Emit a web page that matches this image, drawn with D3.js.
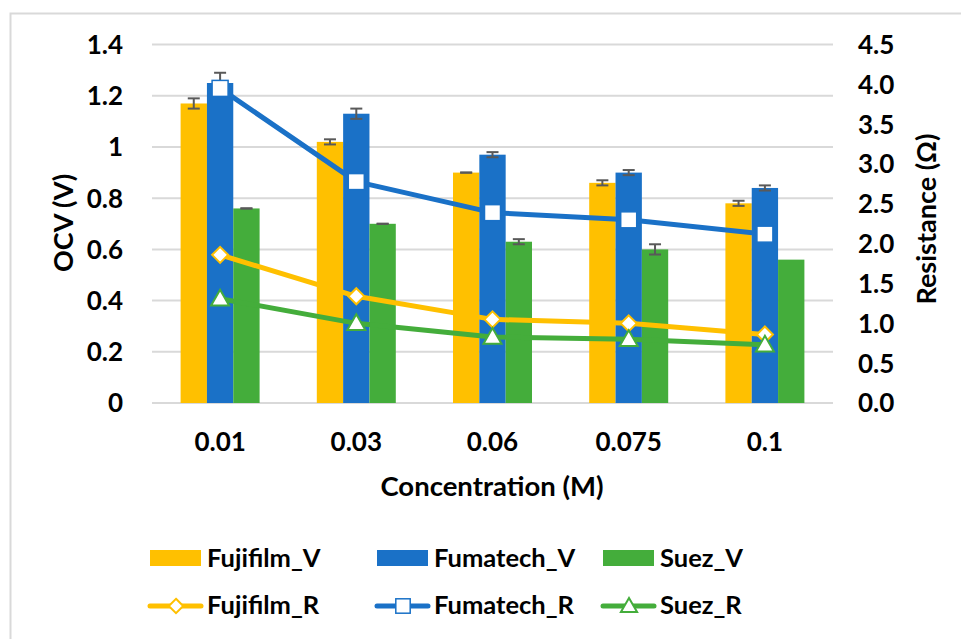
<!DOCTYPE html>
<html><head><meta charset="utf-8">
<script src="https://cdn.jsdelivr.net/npm/d3@7"></script>
<style>
html,body{margin:0;padding:0;background:#fff;}
text{font-family:Lato,"Open Sans",sans-serif;font-weight:bold;fill:#000;}
</style></head>
<body><svg id="chart" width="961" height="639"></svg>
<script>
const categories = ["0.01","0.03","0.06","0.075","0.1"];
const barSeries = ["Fujifilm_V","Fumatech_V","Suez_V"];
const lineSeries = ["Fujifilm_R","Fumatech_R","Suez_R"];
const fujifilmV = [1.17,1.02,0.90,0.86,0.78];
const fumatechV = [1.25,1.13,0.97,0.90,0.84];
const suezV = [0.76,0.70,0.63,0.60,0.56];
const fujifilmVErr = [0.02,0.01,0.0,0.01,0.01];
const fumatechVErr = [0.04,0.02,0.01,0.01,0.01];
const suezVErr = [0.0,0.0,0.01,0.02,null];
const fujifilmR = [1.86,1.34,1.05,1.00,0.86];
const fumatechR = [3.95,2.78,2.39,2.30,2.12];
const suezR = [1.31,1.00,0.83,0.80,0.73];
const leftTicks = [0,0.2,0.4,0.6,0.8,1,1.2,1.4];
const rightTicks = [0,0.5,1.0,1.5,2.0,2.5,3.0,3.5,4.0,4.5];

const colors = ["#FFC000","#1A71C7","#44AD3B"];
const barVals = [fujifilmV,fumatechV,suezV];
const barErrs = [fujifilmVErr,fumatechVErr,suezVErr];
const lineVals = [fujifilmR,fumatechR,suezR];
const markers = ["diamond","square","triangle"];

const svg = d3.select("#chart");
// frame
svg.append("path").attr("d","M10.5,700 L10.5,13.5 L970,13.5").attr("fill","none").attr("stroke","#d9d9d9").attr("stroke-width",2);

const L=152, R=833, T=44.6, B=403;
const x = d3.scaleBand().domain(categories).range([L,R]).paddingInner(0.42).paddingOuter(0.21);
const xs = d3.scaleBand().domain(barSeries).range([0,x.bandwidth()]);
const yL = d3.scaleLinear().domain([0,1.4]).range([B,T]);
const yR = d3.scaleLinear().domain([0,4.5]).range([B,T]);
const cx = c => x(c)+x.bandwidth()/2;

// gridlines
svg.append("g").selectAll("line").data(leftTicks).join("line")
  .attr("x1",L).attr("x2",R).attr("y1",d=>yL(d)).attr("y2",d=>yL(d))
  .attr("stroke","#d9d9d9").attr("stroke-width",2);

// axis tick labels
svg.append("g").selectAll("text").data(leftTicks).join("text")
  .attr("x",123).attr("y",d=>yL(d)).attr("dy","0.36em").attr("text-anchor","end")
  .style("font-size","26px").text(d=>d3.format("")(d));
svg.append("g").selectAll("text").data(rightTicks).join("text")
  .attr("x",858).attr("y",d=>yR(d)).attr("dy","0.36em").attr("text-anchor","start")
  .style("font-size","26px").text(d=>d.toFixed(1));

// category labels
svg.append("g").selectAll("text").data(categories).join("text")
  .attr("x",d=>cx(d)).attr("y",451).attr("text-anchor","middle")
  .style("font-size","26px").text(d=>d);

svg.append("text").attr("x",492).attr("y",496).attr("text-anchor","middle").style("font-size","27.5px").text("Concentration (M)");
svg.append("text").attr("transform","translate(73,223) rotate(-90)").attr("text-anchor","middle").style("font-size","27px").text("OCV (V)");
svg.append("text").attr("transform","translate(936,219) rotate(-90)").attr("text-anchor","middle").style("font-size","27px").text("Resistance (Ω)");

// bars
barSeries.forEach((s,i)=>{
  svg.append("g").selectAll("rect").data(categories).join("rect")
    .attr("x",c=>x(c)+xs(s)).attr("width",xs.bandwidth())
    .attr("y",(c,j)=>yL(barVals[i][j])).attr("height",(c,j)=>B-yL(barVals[i][j]))
    .attr("fill",colors[i]);
});
// error bars
barSeries.forEach((s,i)=>{
  const g = svg.append("g").attr("stroke","#595959").attr("stroke-width",2);
  categories.forEach((c,j)=>{
    const e = barErrs[i][j]; if(e===null) return;
    const mx = x(c)+xs(s)+xs.bandwidth()/2;
    const v = barVals[i][j];
    g.append("line").attr("x1",mx).attr("x2",mx).attr("y1",yL(v+e)).attr("y2",yL(v-e));
    [v+e,v-e].forEach(t=>g.append("line").attr("x1",mx-6).attr("x2",mx+6).attr("y1",yL(t)).attr("y2",yL(t)));
  });
});

function drawMarker(g,type,px,py,color,sc){
  sc = sc||1;
  if(type==="diamond"){
    const r=8*sc;
    g.append("path").attr("d",`M${px},${py-r}L${px+r},${py}L${px},${py+r}L${px-r},${py}Z`)
      .attr("fill","#fff").attr("stroke",color).attr("stroke-width",2);
  } else if(type==="square"){
    const r=8*sc;
    g.append("rect").attr("x",px-r).attr("y",py-r).attr("width",2*r).attr("height",2*r)
      .attr("fill","#fff").attr("stroke",color).attr("stroke-width",1.5);
  } else {
    const r=9*sc;
    g.append("path").attr("d",`M${px},${py-r}L${px+r},${py+r*0.75}L${px-r},${py+r*0.75}Z`)
      .attr("fill","#fff").attr("stroke",color).attr("stroke-width",2);
  }
}

// lines
const line = d3.line().x((d,j)=>cx(categories[j])).y(d=>yR(d));
lineSeries.forEach((s,i)=>{
  svg.append("path").datum(lineVals[i]).attr("d",line).attr("fill","none")
    .attr("stroke",colors[i]).attr("stroke-width",5).attr("stroke-linejoin","round");
});
lineSeries.forEach((s,i)=>{
  const g = svg.append("g");
  lineVals[i].forEach((v,j)=>drawMarker(g,markers[i],cx(categories[j]),yR(v),colors[i]));
});

// legend
const legX = [150,377,603];
barSeries.forEach((s,i)=>{
  svg.append("rect").attr("x",legX[i]).attr("y",550).attr("width",51).attr("height",16).attr("fill",colors[i]);
  svg.append("text").attr("x",legX[i]+57).attr("y",567).style("font-size","25.5px").text(s);
});
lineSeries.forEach((s,i)=>{
  const g = svg.append("g");
  g.append("line").attr("x1",legX[i]).attr("x2",legX[i]+51).attr("y1",606).attr("y2",606)
    .attr("stroke",colors[i]).attr("stroke-width",5).attr("stroke-linecap","round");
  drawMarker(g,markers[i],legX[i]+26,606,colors[i],0.9);
  svg.append("text").attr("x",legX[i]+57).attr("y",614).style("font-size","25.5px").text(s);
});
</script></body></html>
